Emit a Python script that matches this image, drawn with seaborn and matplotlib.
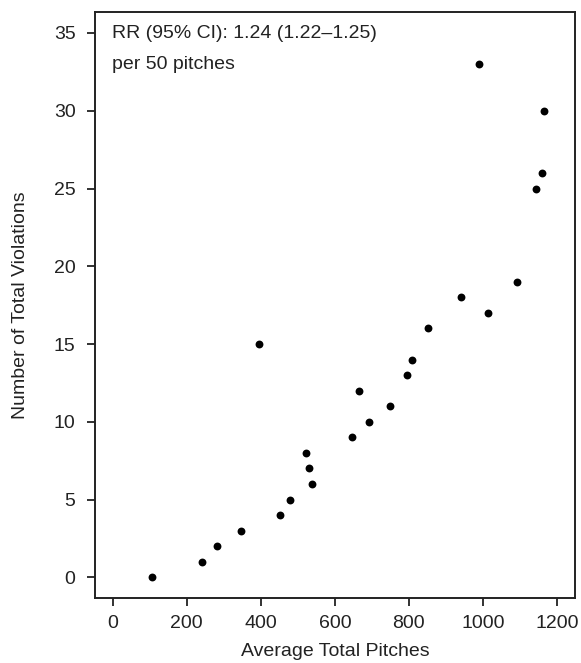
import matplotlib
matplotlib.use("Agg")
import matplotlib.pyplot as plt
import seaborn as sns
import pandas as pd

# values
avg_pitches = [105, 242, 283, 347, 453, 480, 523, 530, 539, 395, 647, 665, 692, 750,
               795, 809, 851, 940, 1013, 1093, 990, 1144, 1160, 1166]
violations = [0, 1, 2, 3, 4, 5, 8, 7, 6, 15, 9, 12, 10, 11,
              13, 14, 16, 18, 17, 19, 33, 25, 26, 30]
x_ticks = [0, 200, 400, 600, 800, 1000, 1200]
y_ticks = [0, 5, 10, 15, 20, 25, 30, 35]

df = pd.DataFrame({"pitches": avg_pitches, "violations": violations})

sns.set_style("ticks")
plt.rcParams["font.family"] = ["Liberation Sans", "DejaVu Sans"]

fig = plt.figure(figsize=(5.81, 6.63), dpi=100)
ax = fig.add_axes([95 / 581, 1 - 598 / 663, 480 / 581, 586 / 663])

sns.scatterplot(data=df, x="pitches", y="violations", ax=ax,
                color="black", s=32, edgecolor="black", linewidth=0)

ax.set_xlim(-48, 1249)
ax.set_ylim(-1.33, 36.35)
ax.set_xticks(x_ticks)
ax.set_yticks(y_ticks)
ax.tick_params(labelsize=14, length=6, width=1.3, colors="#222222")
ax.tick_params(axis="y", pad=8)
ax.tick_params(axis="x", pad=6)
for sp in ax.spines.values():
    sp.set_linewidth(1.4)
    sp.set_color("#222222")

ax.set_xlabel("Average Total Pitches", fontsize=14, color="#222222", labelpad=8)
ax.set_ylabel("Number of Total Violations", fontsize=14, color="#222222", labelpad=18)

ax.text(0.035, 0.964, "RR (95% CI): 1.24 (1.22\u20131.25)", transform=ax.transAxes,
        fontsize=14, va="center", ha="left", color="#222222")
ax.text(0.035, 0.911, "per 50 pitches", transform=ax.transAxes,
        fontsize=14, va="center", ha="left", color="#222222")

fig.savefig("out.png", dpi=100)
